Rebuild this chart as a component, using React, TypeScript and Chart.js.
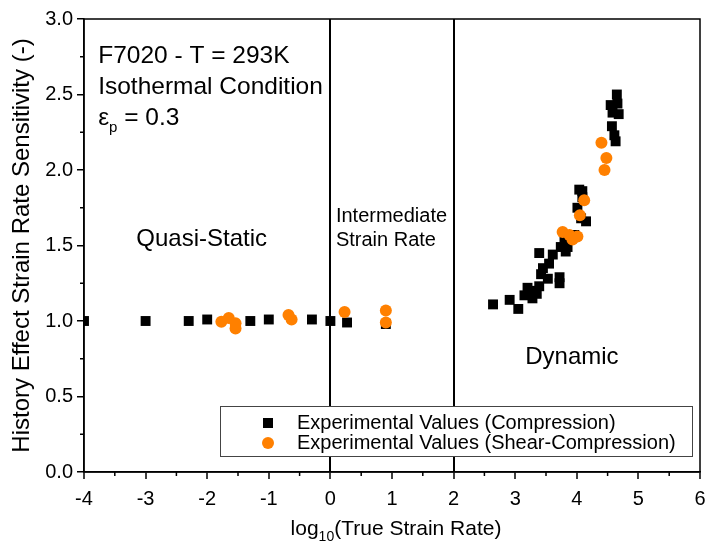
import React, { useEffect, useRef } from 'react';
import { Chart, registerables } from 'chart.js';

Chart.register(...registerables);

const FONT = '"Liberation Sans", Arial, Helvetica, sans-serif';

// log10(true strain rate) and sensitivity values, compression tests
const compressionX = [
  -4.0, -3.0, -2.3, -2.0, -1.3, -1.0, -0.3, 0.0, 0.27, 0.9,
  2.64, 2.91, 3.05, 3.15, 3.2, 3.28, 3.28, 3.35, 3.39, 3.42, 3.45, 3.53, 3.72, 3.72,
  3.39, 3.55, 3.61, 3.74, 3.82, 3.85, 3.8, 3.96, 4.01, 4.07, 4.15, 4.04, 4.09, 4.09,
  4.65, 4.55, 4.66, 4.58, 4.68, 4.57, 4.61, 4.63,
];
const compressionY = [
  1.0, 1.0, 1.0, 1.01, 1.0, 1.01, 1.01, 1.0, 0.99, 0.98,
  1.11, 1.14, 1.08, 1.17, 1.22, 1.15, 1.2, 1.18, 1.23, 1.31, 1.35, 1.28, 1.25, 1.29,
  1.45, 1.38, 1.44, 1.49, 1.46, 1.49, 1.55, 1.57, 1.75, 1.68, 1.66, 1.87, 1.82, 1.86,
  2.5, 2.43, 2.44, 2.38, 2.37, 2.29, 2.23, 2.19,
];

// shear-compression tests
const shearX = [
  -1.77, -1.65, -1.54, -1.54, -0.68, -0.63, 0.23, 0.9, 0.9,
  3.77, 3.88, 4.01, 3.93, 4.05, 4.12, 4.4, 4.48, 4.45,
];
const shearY = [
  0.995, 1.02, 0.985, 0.95, 1.04, 1.01, 1.06, 1.07, 0.99,
  1.59, 1.57, 1.56, 1.54, 1.7, 1.8, 2.18, 2.08, 2.0,
];

const seriesLabels = [
  'Experimental Values (Compression)',
  'Experimental Values (Shear-Compression)',
];
const seriesColors = ['#000000', '#ff8000'];

const xMin = -4;
const xMax = 6;
const yMin = 0;
const yMax = 3;
const xMinorTicks = [-3.5, -2.5, -1.5, -0.5, 0.5, 1.5, 2.5, 3.5, 4.5, 5.5];
const yMinorTicks = [0.25, 0.75, 1.25, 1.75, 2.25, 2.75];
const regimeBoundaries = [0, 2];

const regionLabels = [
  { text: 'Quasi-Static', x: -2.09, y: 1.54, size: 24, align: 'center' },
  { text: 'Intermediate', x: 0.09, y: 1.69, size: 20, align: 'left' },
  { text: 'Strain Rate', x: 0.09, y: 1.53, size: 20, align: 'left' },
  { text: 'Dynamic', x: 3.92, y: 0.76, size: 24, align: 'center' },
];
const infoLines = ['F7020 - T = 293K', 'Isothermal Condition'];

const toPoints = (xs: number[], ys: number[]) => xs.map((x, i) => ({ x, y: ys[i] }));

const decorPlugin = {
  id: 'decor',
  afterDraw(chart: any) {
    const { ctx, chartArea: a } = chart;
    const xs = chart.scales.x;
    const ys = chart.scales.y;
    ctx.save();

    // frame
    ctx.strokeStyle = '#000';
    ctx.lineWidth = 1.5;
    ctx.strokeRect(a.left, a.top, a.right - a.left, a.bottom - a.top);

    // minor ticks
    ctx.beginPath();
    for (const v of xMinorTicks) {
      const px = xs.getPixelForValue(v);
      ctx.moveTo(px, a.bottom);
      ctx.lineTo(px, a.bottom + 4);
    }
    for (const v of yMinorTicks) {
      const py = ys.getPixelForValue(v);
      ctx.moveTo(a.left - 4, py);
      ctx.lineTo(a.left, py);
    }
    ctx.stroke();

    ctx.fillStyle = '#000';
    ctx.textBaseline = 'middle';

    // region labels
    for (const r of regionLabels) {
      ctx.font = `${r.size}px ${FONT}`;
      ctx.textAlign = r.align;
      ctx.fillText(r.text, xs.getPixelForValue(r.x), ys.getPixelForValue(r.y));
    }

    // info block
    ctx.textAlign = 'left';
    ctx.textBaseline = 'alphabetic';
    ctx.font = `24.5px ${FONT}`;
    const ix = xs.getPixelForValue(-3.77);
    const iy0 = ys.getPixelForValue(2.77) + 9;
    infoLines.forEach((t, i) => ctx.fillText(t, ix, iy0 + i * 31));
    const iy2 = iy0 + 2 * 31;
    let cx = ix;
    ctx.fillText('\u03b5', cx, iy2);
    cx += ctx.measureText('\u03b5').width;
    ctx.font = `15px ${FONT}`;
    ctx.fillText('p', cx, iy2 + 7);
    cx += ctx.measureText('p').width;
    ctx.font = `24.5px ${FONT}`;
    ctx.fillText(' = 0.3', cx, iy2);

    // x axis title with subscript
    const big = `21px ${FONT}`;
    const small = `14px ${FONT}`;
    ctx.font = big;
    const w1 = ctx.measureText('log').width;
    const w3 = ctx.measureText('(True Strain Rate)').width;
    ctx.font = small;
    const w2 = ctx.measureText('10').width;
    const total = w1 + w2 + w3;
    let tx = (a.left + a.right) / 2 - total / 2 + 4;
    const ty = 535;
    ctx.font = big;
    ctx.fillText('log', tx, ty);
    tx += w1;
    ctx.font = small;
    ctx.fillText('10', tx, ty + 6);
    tx += w2;
    ctx.font = big;
    ctx.fillText('(True Strain Rate)', tx, ty);

    // legend
    const lx = 220, ly = 406, lw = 472, lh = 50;
    ctx.fillStyle = '#fff';
    ctx.fillRect(lx, ly, lw, lh);
    ctx.strokeStyle = '#444';
    ctx.lineWidth = 1;
    ctx.strokeRect(lx + 0.5, ly + 0.5, lw, lh);
    ctx.font = `20px ${FONT}`;
    ctx.textBaseline = 'middle';
    const rows = [ly + 17, ly + 37];
    ctx.fillStyle = seriesColors[0];
    ctx.fillRect(268 - 5, rows[0] - 5, 10, 10);
    ctx.fillStyle = seriesColors[1];
    ctx.beginPath();
    ctx.arc(268, rows[1], 6, 0, Math.PI * 2);
    ctx.fill();
    ctx.fillStyle = '#000';
    ctx.fillText(seriesLabels[0], 297, rows[0]);
    ctx.fillText(seriesLabels[1], 297, rows[1]);

    ctx.restore();
  },
};

export default function App() {
  const ref = useRef<HTMLCanvasElement>(null);
  useEffect(() => {
    if (!ref.current) return;
    const chart = new Chart(ref.current, {
      type: 'scatter',
      data: {
        datasets: [
          {
            label: seriesLabels[0],
            data: toPoints(compressionX, compressionY),
            pointStyle: 'rect',
            pointRadius: 7,
            backgroundColor: seriesColors[0],
            borderWidth: 0,
            order: 1,
          },
          {
            label: seriesLabels[1],
            data: toPoints(shearX, shearY),
            pointStyle: 'circle',
            pointRadius: 6,
            backgroundColor: seriesColors[1],
            borderWidth: 0,
            order: 0,
          },
        ],
      },
      options: {
        animation: false,
        responsive: false,
        layout: { padding: { top: 19, right: 1, left: 0, bottom: 0 } },
        plugins: { legend: { display: false }, tooltip: { enabled: false } },
        scales: {
          x: {
            type: 'linear',
            min: xMin,
            max: xMax,
            ticks: {
              stepSize: 1,
              color: '#000',
              padding: 8,
              font: { size: 20, family: FONT },
              maxRotation: 0,
            },
            grid: {
              color: (c: any) =>
                c.tick && regimeBoundaries.includes(c.tick.value) ? '#000' : 'rgba(0,0,0,0)',
              lineWidth: 2,
              tickColor: '#000',
              tickWidth: 1.5,
              tickLength: 7,
            },
            border: { color: '#000', width: 1.5 },
            afterFit: (s: any) => {
              s.height = 79;
              s.paddingLeft = 0;
              s.paddingRight = 0;
            },
          },
          y: {
            type: 'linear',
            min: yMin,
            max: yMax,
            ticks: {
              stepSize: 0.5,
              color: '#000',
              padding: 4,
              font: { size: 20, family: FONT },
              callback: (v: any) => Number(v).toFixed(1),
            },
            grid: {
              drawOnChartArea: false,
              color: '#000',
              lineWidth: 1.5,
              tickLength: 7,
            },
            border: { color: '#000', width: 1.5 },
            title: {
              display: true,
              text: 'History Effect Strain Rate Sensitivity (-)',
              color: '#000',
              font: { size: 24, family: FONT },
              padding: { top: 8, bottom: 0 },
            },
            afterFit: (s: any) => {
              s.width = 84;
            },
          },
        },
      },
      plugins: [decorPlugin],
    });
    return () => chart.destroy();
  }, []);
  return (
    <div style={{ position: 'fixed', left: 0, top: 0, width: 707, height: 551, background: '#fff' }}>
      <canvas ref={ref} width={707} height={551} style={{ width: 707, height: 551 }} />
    </div>
  );
}
